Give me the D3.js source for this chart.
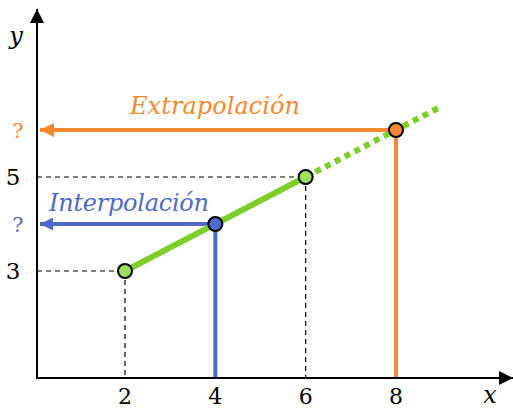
<!DOCTYPE html>
<html>
<head>
<meta charset="utf-8">
<script src="https://cdn.jsdelivr.net/npm/d3@7"></script>
<style>
  body { margin: 0; background: #fff; }
  svg { display: block; }
</style>
</head>
<body>
<div id="graf"></div>
<script>
// datos
const conocidos = [{ x: 2, y: 3 }, { x: 6, y: 5 }]
const interp = { x: 4, y: 4 }
const extrap = { x: 8, y: 6 }
const finLinea = { x: 9, y: 6.5 }
const xTicks = [2, 4, 6, 8]
const yTicks = [3, 5]

const ancho = 513
const alto = 408
const verde = "#7ccf2b"
const verdeClaro = "#9fe05a"
const naranja = "#f5892f"
const azul = "#4f6bc9"

const svg = d3.select("#graf")
  .append("svg")
  .attr("width", ancho)
  .attr("height", alto)

const x = d3.scaleLinear().domain([2, 8]).range([125, 396])
const y = d3.scaleLinear().domain([3, 5]).range([271, 177])

const ejeX = 37
const ejeY = 378

const defs = svg.append("defs")
const flecha = (id, color, w, h) => {
  defs.append("marker")
    .attr("id", id)
    .attr("viewBox", "0 0 10 10")
    .attr("refX", 10)
    .attr("refY", 5)
    .attr("markerUnits", "userSpaceOnUse")
    .attr("markerWidth", w)
    .attr("markerHeight", h)
    .attr("orient", "auto")
    .append("path")
    .attr("d", "M0,0 L10,5 L0,10 Z")
    .attr("fill", color)
}
flecha("fNegra", "#000", 14, 14)
flecha("fNaranja", naranja, 18, 14)
flecha("fAzul", azul, 16, 13)

// lineas punteadas negras
const guias = svg.append("g")
  .attr("stroke", "#000")
  .attr("stroke-width", 1.2)
  .attr("stroke-dasharray", "5,4")
conocidos.forEach((d) => {
  guias.append("line")
    .attr("x1", ejeX).attr("x2", x(d.x))
    .attr("y1", y(d.y)).attr("y2", y(d.y))
  guias.append("line")
    .attr("x1", x(d.x)).attr("x2", x(d.x))
    .attr("y1", y(d.y)).attr("y2", ejeY)
})

// proyecciones
const proyeccion = (p, color, marker) => {
  svg.append("line")
    .attr("x1", x(p.x)).attr("x2", x(p.x))
    .attr("y1", y(p.y)).attr("y2", ejeY)
    .attr("stroke", color).attr("stroke-width", 4)
  svg.append("line")
    .attr("x1", x(p.x)).attr("x2", ejeX + 3)
    .attr("y1", y(p.y)).attr("y2", y(p.y))
    .attr("stroke", color).attr("stroke-width", 4)
    .attr("marker-end", `url(#${marker})`)
}
proyeccion(extrap, naranja, "fNaranja")
proyeccion(interp, azul, "fAzul")

// recta verde
svg.append("line")
  .attr("x1", x(conocidos[1].x)).attr("y1", y(conocidos[1].y))
  .attr("x2", x(finLinea.x)).attr("y2", y(finLinea.y))
  .attr("stroke", verde).attr("stroke-width", 6)
  .attr("stroke-dasharray", "6,5")
svg.append("line")
  .attr("x1", x(conocidos[0].x)).attr("y1", y(conocidos[0].y))
  .attr("x2", x(conocidos[1].x)).attr("y2", y(conocidos[1].y))
  .attr("stroke", verde).attr("stroke-width", 6)

// ejes
svg.append("line")
  .attr("x1", ejeX).attr("x2", ejeX)
  .attr("y1", ejeY + 1).attr("y2", 9)
  .attr("stroke", "#000").attr("stroke-width", 2)
  .attr("marker-end", "url(#fNegra)")
svg.append("line")
  .attr("x1", ejeX - 1).attr("x2", 513)
  .attr("y1", ejeY).attr("y2", ejeY)
  .attr("stroke", "#000").attr("stroke-width", 2)
  .attr("marker-end", "url(#fNegra)")

// puntos
const punto = (p, fill) => {
  svg.append("circle")
    .attr("cx", x(p.x)).attr("cy", y(p.y))
    .attr("r", 7)
    .attr("fill", fill)
    .attr("stroke", "#000")
    .attr("stroke-width", 2)
}
conocidos.forEach((d) => punto(d, verdeClaro))
punto(interp, azul)
punto(extrap, naranja)

// textos
const fuente = "'DejaVu Serif', 'Liberation Serif', serif"
svg.selectAll(".xt")
  .data(xTicks)
  .enter()
  .append("text")
  .attr("x", (d) => x(d))
  .attr("y", 404)
  .attr("text-anchor", "middle")
  .attr("font-family", fuente)
  .attr("font-size", 22)
  .text((d) => d)

svg.selectAll(".yt")
  .data(yTicks)
  .enter()
  .append("text")
  .attr("x", 13)
  .attr("y", (d) => y(d) + 8)
  .attr("text-anchor", "middle")
  .attr("font-family", fuente)
  .attr("font-size", 23)
  .text((d) => d)

const pregunta = (p, color) => {
  svg.append("text")
    .attr("x", 18)
    .attr("y", y(p.y) + 8)
    .attr("text-anchor", "middle")
    .attr("font-family", fuente)
    .attr("font-size", 21)
    .attr("fill", color)
    .text("?")
}
pregunta(extrap, naranja)
pregunta(interp, azul)

svg.append("text")
  .attr("x", 130).attr("y", 114)
  .attr("font-family", fuente).attr("font-style", "italic")
  .attr("font-size", 24)
  .attr("fill", naranja)
  .attr("textLength", 170)
  .text("Extrapolación")
svg.append("text")
  .attr("x", 49).attr("y", 211)
  .attr("font-family", fuente).attr("font-style", "italic")
  .attr("font-size", 24)
  .attr("fill", azul)
  .attr("textLength", 160)
  .text("Interpolación")

svg.append("text")
  .attr("x", 490).attr("y", 403)
  .attr("text-anchor", "middle")
  .attr("font-family", fuente).attr("font-style", "italic")
  .attr("font-size", 24)
  .text("x")
svg.append("text")
  .attr("x", 16).attr("y", 44)
  .attr("text-anchor", "middle")
  .attr("font-family", fuente).attr("font-style", "italic")
  .attr("font-size", 24)
  .text("y")
</script>
</body>
</html>
